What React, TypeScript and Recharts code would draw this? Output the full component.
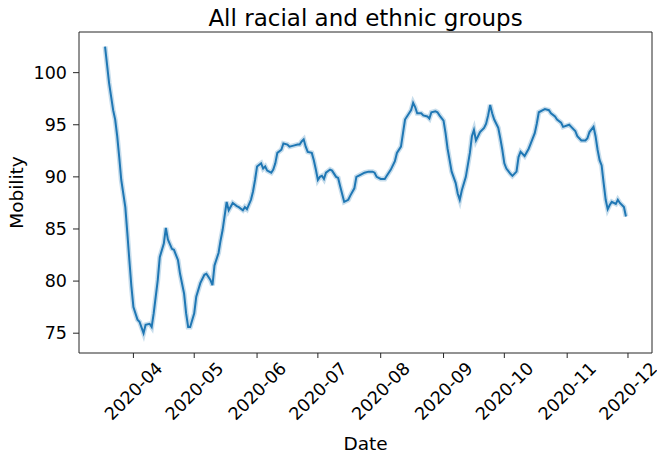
import { LineChart, Line, XAxis, YAxis, ReferenceArea } from 'recharts'

// Daily mobility index
const dates = [
  '2020-03-18', '2020-03-20', '2020-03-22', '2020-03-23', '2020-03-24', '2020-03-25', '2020-03-26',
  '2020-03-28', '2020-03-29', '2020-03-30', '2020-03-31', '2020-04-01', '2020-04-03', '2020-04-04',
  '2020-04-06', '2020-04-07', '2020-04-09', '2020-04-10', '2020-04-11', '2020-04-13', '2020-04-14',
  '2020-04-16', '2020-04-17', '2020-04-18', '2020-04-20', '2020-04-21', '2020-04-23', '2020-04-24',
  '2020-04-26', '2020-04-27', '2020-04-28', '2020-04-29', '2020-05-01', '2020-05-02', '2020-05-04',
  '2020-05-06', '2020-05-07', '2020-05-09', '2020-05-10', '2020-05-11', '2020-05-13', '2020-05-14',
  '2020-05-15', '2020-05-17', '2020-05-18', '2020-05-20', '2020-05-22', '2020-05-23', '2020-05-25',
  '2020-05-26', '2020-05-27', '2020-05-29', '2020-05-30', '2020-05-31', '2020-06-01', '2020-06-03',
  '2020-06-04', '2020-06-05', '2020-06-06', '2020-06-08', '2020-06-09', '2020-06-10', '2020-06-11',
  '2020-06-13', '2020-06-14', '2020-06-16', '2020-06-17', '2020-06-19', '2020-06-21', '2020-06-22',
  '2020-06-23', '2020-06-24', '2020-06-25', '2020-06-26', '2020-06-28', '2020-06-29', '2020-06-30',
  '2020-07-01', '2020-07-02', '2020-07-03', '2020-07-04', '2020-07-05', '2020-07-07', '2020-07-08',
  '2020-07-10', '2020-07-11', '2020-07-12', '2020-07-14', '2020-07-16', '2020-07-17', '2020-07-19',
  '2020-07-20', '2020-07-22', '2020-07-24', '2020-07-26', '2020-07-28', '2020-07-29', '2020-07-30',
  '2020-08-01', '2020-08-03', '2020-08-04', '2020-08-06', '2020-08-08', '2020-08-09', '2020-08-11',
  '2020-08-12', '2020-08-13', '2020-08-15', '2020-08-16', '2020-08-17', '2020-08-18', '2020-08-19',
  '2020-08-21', '2020-08-22', '2020-08-24', '2020-08-25', '2020-08-26', '2020-08-28', '2020-08-29',
  '2020-08-30', '2020-09-01', '2020-09-02', '2020-09-03', '2020-09-04', '2020-09-05', '2020-09-07',
  '2020-09-08', '2020-09-09', '2020-09-10', '2020-09-12', '2020-09-14', '2020-09-15', '2020-09-16',
  '2020-09-17', '2020-09-18', '2020-09-19', '2020-09-21', '2020-09-22', '2020-09-23', '2020-09-24',
  '2020-09-25', '2020-09-26', '2020-09-28', '2020-09-29', '2020-09-30', '2020-10-01', '2020-10-02',
  '2020-10-04', '2020-10-05', '2020-10-07', '2020-10-08', '2020-10-09', '2020-10-11', '2020-10-13',
  '2020-10-14', '2020-10-16', '2020-10-17', '2020-10-18', '2020-10-20', '2020-10-21', '2020-10-23',
  '2020-10-24', '2020-10-26', '2020-10-27', '2020-10-29', '2020-10-30', '2020-11-02', '2020-11-03',
  '2020-11-05', '2020-11-06', '2020-11-08', '2020-11-10', '2020-11-11', '2020-11-12', '2020-11-14',
  '2020-11-15', '2020-11-16', '2020-11-17', '2020-11-18', '2020-11-19', '2020-11-20', '2020-11-21',
  '2020-11-22', '2020-11-23', '2020-11-25', '2020-11-26', '2020-11-27', '2020-11-29', '2020-11-30',
]

const mobility = [
  102.5, 99.0, 96.4, 95.5, 93.9, 91.9, 89.7,
  87.1, 84.6, 82.0, 79.5, 77.5, 76.3, 76.1,
  75.0, 75.8, 75.9, 75.6, 76.9, 80.1, 82.3,
  83.6, 85.1, 84.0, 83.1, 83.0, 82.0, 80.7,
  78.8, 76.9, 75.6, 75.6, 76.9, 78.5, 79.8,
  80.6, 80.7, 80.1, 79.6, 81.5, 82.7, 83.9,
  84.9, 87.6, 86.8, 87.5, 87.2, 87.1, 86.8,
  87.1, 86.9, 87.8, 88.6, 89.7, 91.0, 91.3,
  90.8, 91.0, 90.6, 90.4, 90.7, 91.3, 92.3,
  92.6, 93.2, 93.1, 92.9, 93.0, 93.1, 93.1,
  93.4, 93.6, 92.9, 92.4, 92.3, 91.6, 90.7,
  89.7, 90.0, 90.1, 89.8, 90.4, 90.7, 90.6,
  90.0, 89.9, 89.1, 87.6, 87.8, 88.2, 88.9,
  90.0, 90.2, 90.4, 90.5, 90.5, 90.4, 90.0,
  89.8, 89.8, 90.1, 90.7, 91.5, 92.3, 92.9,
  94.2, 95.5, 96.1, 96.4, 97.1, 96.7, 96.1,
  96.1, 95.9, 95.8, 95.6, 96.2, 96.3, 96.2,
  95.9, 95.4, 94.2, 92.7, 91.6, 90.5, 89.4,
  88.4, 87.8, 88.7, 90.0, 92.3, 93.9, 94.5,
  93.5, 93.9, 94.3, 94.7, 95.1, 95.9, 96.9,
  96.1, 95.5, 94.7, 93.7, 92.6, 91.3, 90.8,
  90.3, 90.1, 90.5, 91.9, 92.4, 92.0, 92.7,
  93.2, 94.2, 95.1, 96.2, 96.4, 96.5, 96.4,
  96.1, 95.8, 95.5, 95.2, 94.8, 95.0, 94.8,
  94.4, 93.9, 93.5, 93.5, 93.7, 94.3, 94.8,
  93.9, 92.6, 91.6, 91.1, 89.4, 87.8, 86.9,
  87.3, 87.6, 87.4, 87.8, 87.5, 87.1, 86.2,
]

const monthTicks = ['2020-04', '2020-05', '2020-06', '2020-07', '2020-08', '2020-09', '2020-10', '2020-11', '2020-12']
const yTicks = [75, 80, 85, 90, 95, 100]

const data = dates.map((d, i) => ({ t: Date.parse(d), mobility: mobility[i] }))

// matplotlib-style 5% margins on the date axis
const tMin = data[0].t
const tMax = data[data.length - 1].t
const pad = (tMax - tMin) * 0.05
const xDomain: [number, number] = [tMin - pad, tMax + pad]
const yDomain: [number, number] = [73.1, 103.9]

const FONT = '"DejaVu Sans", sans-serif'
const BLUE = '#1f77b4'
const AXIS = '#262626'
const TICK_SIZE = 17.5

function MonthTick(props: any) {
  const { x, y, payload } = props
  const d = new Date(payload.value)
  const label = `${d.getUTCFullYear()}-${String(d.getUTCMonth() + 1).padStart(2, '0')}`
  return (
    <text
      transform={`translate(${x},${y + 33}) rotate(-45)`}
      textAnchor="middle"
      dy="0.36em"
      fontSize={TICK_SIZE}
      fontFamily={FONT}
      fill="#000"
    >
      {label}
    </text>
  )
}

function ValueTick(props: any) {
  const { x, y, payload } = props
  return (
    <text x={x} y={y} dy="0.36em" textAnchor="end" fontSize={TICK_SIZE} fontFamily={FONT} fill="#000">
      {payload.value}
    </text>
  )
}

export default function App() {
  return (
    <div style={{ position: 'absolute', left: 0, top: 0, width: 657, height: 457, background: '#fff' }}>
      <LineChart width={657} height={457} data={data} margin={{ top: 32, right: 5, bottom: 0, left: 0 }}>
        <text x={365.5} y={26} textAnchor="middle" fontSize={23} fontFamily={FONT} fill="#000">
          All racial and ethnic groups
        </text>
        <XAxis
          dataKey="t"
          type="number"
          domain={xDomain}
          allowDataOverflow
          ticks={monthTicks.map((m) => Date.parse(m + '-01'))}
          tick={<MonthTick />}
          tickSize={5}
          tickMargin={0}
          tickLine={{ stroke: AXIS }}
          axisLine={false}
          height={104}
          interval={0}
          label={{
            content: ({ viewBox }: any) => (
              <text
                x={viewBox.x + viewBox.width / 2}
                y={viewBox.y + 97}
                textAnchor="middle"
                fontSize={18.5}
                fontFamily={FONT}
                fill="#000"
              >
                Date
              </text>
            ),
          }}
        />
        <YAxis
          type="number"
          domain={yDomain}
          allowDataOverflow
          ticks={yTicks}
          interval={0}
          width={79}
          tickSize={6}
          tickMargin={6}
          tickLine={{ stroke: AXIS }}
          axisLine={false}
          tick={<ValueTick />}
          label={{
            content: ({ viewBox }: any) => {
              const cx = viewBox.x + 23
              const cy = viewBox.y + viewBox.height / 2
              return (
                <text
                  x={cx}
                  y={cy}
                  transform={`rotate(-90, ${cx}, ${cy})`}
                  textAnchor="middle"
                  fontSize={18.5}
                  fontFamily={FONT}
                  fill="#000"
                >
                  Mobility
                </text>
              )
            },
          }}
        />
        <ReferenceArea
          x1={xDomain[0]}
          x2={xDomain[1]}
          y1={yDomain[0]}
          y2={yDomain[1]}
          fill="none"
          stroke={AXIS}
          strokeWidth={1}
          ifOverflow="visible"
        />
        {/* light halo standing in for the confidence band */}
        <Line
          dataKey="mobility"
          stroke={BLUE}
          strokeOpacity={0.25}
          strokeWidth={5}
          dot={false}
          activeDot={false}
          isAnimationActive={false}
        />
        <Line
          dataKey="mobility"
          stroke={BLUE}
          strokeWidth={2}
          dot={false}
          activeDot={false}
          isAnimationActive={false}
        />
      </LineChart>
    </div>
  )
}
